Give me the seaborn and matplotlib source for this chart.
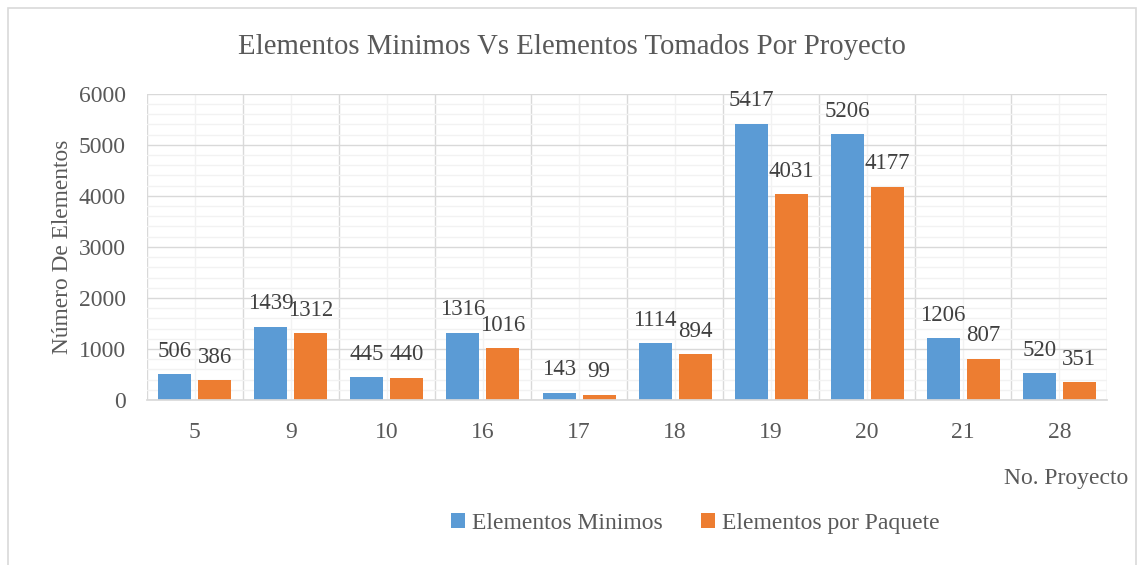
import matplotlib
matplotlib.use("Agg")
import matplotlib.pyplot as plt
from matplotlib.ticker import MultipleLocator, FixedLocator
from matplotlib.patches import Rectangle
import seaborn as sns
import pandas as pd

proyectos = ["5", "9", "10", "16", "17", "18", "19", "20", "21", "28"]
elementos_minimos = [506, 1439, 445, 1316, 143, 1114, 5417, 5206, 1206, 520]
elementos_paquete = [386, 1312, 440, 1016, 99, 894, 4031, 4177, 807, 351]
series = ["Elementos Minimos", "Elementos por Paquete"]

df = pd.DataFrame({
    "Proyecto": proyectos * 2,
    "Valor": elementos_minimos + elementos_paquete,
    "Serie": [series[0]] * len(proyectos) + [series[1]] * len(proyectos),
})

sns.set_theme(style="white")
plt.rcParams['font.family'] = ['Liberation Serif', 'DejaVu Serif']
texto = '#595959'

fig = plt.figure(figsize=(11.38, 5.65), dpi=100)
ax = fig.add_axes([0.129, 0.292, 0.844, 0.542])

sns.barplot(data=df, x="Proyecto", y="Valor", hue="Serie", order=proyectos,
            palette=["#5B9BD5", "#ED7D31"], width=0.833, gap=0.175,
            saturation=1, linewidth=0, ax=ax, legend=True)

ax.set_ylim(0, 6000)
ax.set_xlim(-0.5, len(proyectos) - 0.5)
ax.yaxis.set_major_locator(MultipleLocator(1000))
ax.yaxis.set_minor_locator(MultipleLocator(200))
ax.xaxis.set_major_locator(FixedLocator(range(len(proyectos))))
ax.xaxis.set_minor_locator(FixedLocator([i - 0.5 for i in range(len(proyectos) + 1)]))

# rejilla: principal horizontal, vertical en los limites de categoria
ax.grid(False)
ax.yaxis.grid(True, which='major', color='#D9D9D9', linewidth=1)
ax.yaxis.grid(True, which='minor', color='#F2F2F2', linewidth=1)
ax.xaxis.grid(True, which='minor', color='#D9D9D9', linewidth=1)
ax.xaxis.grid(True, which='major', color='#F2F2F2', linewidth=1)
ax.set_axisbelow(True)

for s in ['top', 'right', 'left']:
    ax.spines[s].set_visible(False)
ax.spines['bottom'].set_color('#D9D9D9')
ax.tick_params(axis='y', which='both', length=0, labelsize=17, colors=texto, pad=15)
ax.tick_params(axis='x', which='both', length=0, labelsize=17, colors=texto, pad=16)
ax.set_xticklabels(proyectos)

for cont in ax.containers:
    ax.bar_label(cont, fmt='%d', padding=9, fontsize=16.5, color='#404040')

ax.set_ylabel("Número De Elementos", fontsize=16.8, color=texto, labelpad=4)
ax.set_xlabel("")
fig.text(0.991, 0.153, "No. Proyecto", ha='right', va='center', fontsize=17, color=texto)
fig.text(0.503, 0.916, "Elementos Minimos Vs Elementos Tomados Por Proyecto",
         ha='center', va='center', fontsize=20.7, color=texto)

ax.legend(loc='center', bbox_to_anchor=(0.611, 0.073), bbox_transform=fig.transFigure,
          ncol=2, frameon=False, fontsize=17, handlelength=0.6, handleheight=0.6,
          handletextpad=0.3, columnspacing=1.6, labelcolor=texto)

fig.patches.append(Rectangle((0.0066, -0.1), 0.992, 1.0867, transform=fig.transFigure,
                             fill=False, edgecolor='#D9D9D9', linewidth=1.2))

fig.savefig("out.png", dpi=100)
